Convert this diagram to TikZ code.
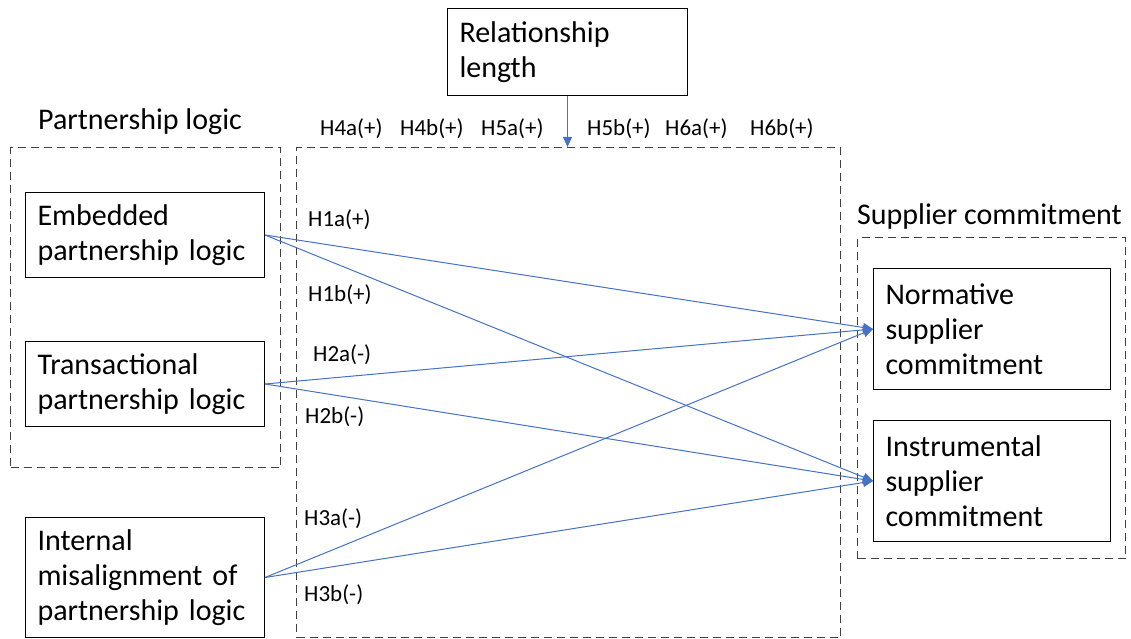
\documentclass[tikz,border=0pt]{standalone}
\usepackage{fontspec}
\setmainfont{Carlito}
\usetikzlibrary{positioning}
\usetikzlibrary{arrows.meta}
\usepackage{xcolor}
\definecolor{linkblue}{HTML}{4472C4}
\definecolor{dashgray}{HTML}{404040}

\begin{document}
\begin{tikzpicture}[x=1pt, y=-1pt, every node/.style={align=left},
    box/.style={draw, line width=1pt, font=\fontsize{30}{35}\selectfont, inner xsep=12pt, anchor=north west},
    group/.style={draw=dashgray, line width=1.1pt, dash pattern=on 8pt off 5pt, anchor=north west, inner sep=0pt},
    title/.style={font=\fontsize{30}{35}\selectfont, inner sep=0pt, anchor=base west},
    hyp/.style={font=\fontsize{23}{28}\selectfont, inner sep=0pt, anchor=west},
    link/.style={draw=linkblue, line width=1pt, -{Triangle[length=10pt,width=9pt]}}]
    \useasboundingbox (0,0) rectangle (1131,639);

    % dashed groups
    \node [group, minimum width=270pt, minimum height=320pt] (leftgrp) at (10,147) {};
    \node [group, minimum width=544pt, minimum height=490pt] (mid) at (296,147) {};
    \node [group, minimum width=268pt, minimum height=321pt] (rightgrp) at (857,237) {};
    \node [title] (ltitle) at (38,130) {Partnership logic};
    \node [title] (rtitle) at (857,224) {Supplier commitment};

    % boxes
    \node [box, text width=216pt, minimum height=87pt, inner xsep=12pt] (rel) at (447,8) {Relationship\\length};
    \node [box, text width=215pt, minimum height=85pt] (embedded) at (25,192) {Embedded\\partnership logic};
    \node [box, text width=215pt, minimum height=85pt] (transact) at (25,341) {Transactional\\partnership logic};
    \node [box, text width=215pt, minimum height=120pt] (internal) at (25,517) {Internal\\misalignment of\\partnership logic};
    \node [box, text width=213pt, minimum height=121pt] (normative) at (873,268) {Normative\\supplier\\commitment};
    \node [box, text width=213pt, minimum height=121pt] (instrument) at (873,420) {Instrumental\\supplier\\commitment};

    % hypothesis labels
    \node [hyp] (h4a) at (320,129) {H4a(+)};
    \node [hyp] (h4b) at (400,129) {H4b(+)};
    \node [hyp] (h5a) at (481,129) {H5a(+)};
    \node [hyp] (h5b) at (587,129) {H5b(+)};
    \node [hyp] (h6a) at (665,129) {H6a(+)};
    \node [hyp] (h6b) at (750,129) {H6b(+)};
    \node [hyp] (h1a) at (308,220) {H1a(+)};
    \node [hyp] (h1b) at (308,295) {H1b(+)};
    \node [hyp] (h2a) at (313,355) {H2a(-)};
    \node [hyp] (h2b) at (305,417) {H2b(-)};
    \node [hyp] (h3a) at (304,519) {H3a(-)};
    \node [hyp] (h3b) at (304,595) {H3b(-)};

    % arrows
    \draw [link] (rel.south) -- (rel.south |- mid.north);
    \draw [link] (embedded.east) -- (normative.west);
    \draw [link] (embedded.east) -- (instrument.west);
    \draw [link] (transact.east) -- (normative.west);
    \draw [link] (transact.east) -- (instrument.west);
    \draw [link] (internal.east) -- (normative.west);
    \draw [link] (internal.east) -- (instrument.west);
\end{tikzpicture}
\end{document}
